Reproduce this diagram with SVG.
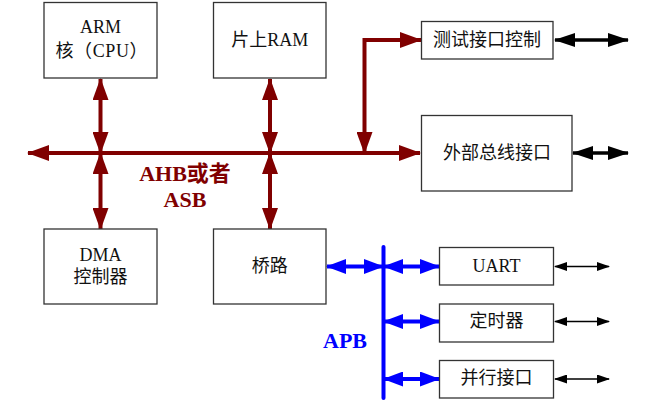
<svg xmlns="http://www.w3.org/2000/svg" width="655" height="406" viewBox="0 0 655 406">
<style>
.box{fill:#fff;stroke:#333;stroke-width:1.3}
.t{font-family:"Liberation Serif","Noto Sans CJK SC",serif;font-size:18px;fill:#111;text-anchor:middle}
.ahb{stroke:#800000;stroke-width:4;fill:none}
.apb{stroke:#0000ff;stroke-width:4;fill:none}
.ext{stroke:#000;stroke-width:3.5;fill:none}
.sm{stroke:#000;stroke-width:1.4;fill:none}
.lbl{font-family:"Liberation Serif","Noto Sans CJK SC",serif;font-size:22px;font-weight:bold;text-anchor:middle}
</style>
<defs>
<marker id="mr" markerUnits="userSpaceOnUse" markerWidth="22" markerHeight="16" refX="21" refY="8" orient="auto-start-reverse"><path d="M0,0 L22,8 L0,16 z" fill="#800000"/></marker>
<marker id="mb" markerUnits="userSpaceOnUse" markerWidth="20" markerHeight="15" refX="19" refY="7.5" orient="auto-start-reverse"><path d="M0,0 L20,7.5 L0,15 z" fill="#0000ff"/></marker>
<marker id="mk" markerUnits="userSpaceOnUse" markerWidth="21" markerHeight="14" refX="20" refY="7" orient="auto-start-reverse"><path d="M0,0 L21,7 L0,14 z" fill="#000"/></marker>
<marker id="ms" markerUnits="userSpaceOnUse" markerWidth="13" markerHeight="9" refX="12" refY="4.5" orient="auto-start-reverse"><path d="M0,0 L13,4.5 L0,9 z" fill="#000"/></marker>
</defs>
<g id="connectors">
<path class="ahb" d="M420,153 H28" marker-end="url(#mr)" marker-start="url(#mr)"/>
<path class="ahb" d="M100.5,79 V153" marker-start="url(#mr)" marker-end="url(#mr)"/>
<path class="ahb" d="M100.5,153 V229" marker-start="url(#mr)" marker-end="url(#mr)"/>
<path class="ahb" d="M270,79 V153" marker-start="url(#mr)" marker-end="url(#mr)"/>
<path class="ahb" d="M270,153 V229" marker-start="url(#mr)" marker-end="url(#mr)"/>
<path class="ahb" d="M364.5,153 V40 H421" marker-start="url(#mr)" marker-end="url(#mr)"/>
<path class="ext" d="M555,40 H628" marker-start="url(#mk)" marker-end="url(#mk)"/>
<path class="ext" d="M573,153 H628" marker-start="url(#mk)" marker-end="url(#mk)"/>
<path class="apb" d="M383.5,247 V398" stroke-linecap="round"/>
<path class="apb" d="M327,266.5 H383" marker-start="url(#mb)" marker-end="url(#mb)"/>
<path class="apb" d="M384,266.5 H439" marker-start="url(#mb)" marker-end="url(#mb)"/>
<path class="apb" d="M384,321.5 H439" marker-start="url(#mb)" marker-end="url(#mb)"/>
<path class="apb" d="M384,379 H439" marker-start="url(#mb)" marker-end="url(#mb)"/>
<path class="sm" d="M555,266.5 H609" marker-start="url(#ms)" marker-end="url(#ms)"/>
<path class="sm" d="M555,321.5 H609" marker-start="url(#ms)" marker-end="url(#ms)"/>
<path class="sm" d="M555,379 H609" marker-start="url(#ms)" marker-end="url(#ms)"/>
<text class="lbl" x="185" y="181" fill="#800000">AHB或者</text>
<text class="lbl" x="185" y="207" fill="#800000">ASB</text>
<text class="lbl" x="345" y="348" fill="#0000ff">APB</text>
</g>
<g id="arm"><rect class="box" x="44" y="2.5" width="113" height="75.5"/><text class="t" x="100.5" y="33">ARM</text><text class="t" x="101.5" y="57" textLength="92" lengthAdjust="spacing">核（CPU）</text></g>
<g id="ram"><rect class="box" x="213.5" y="2.5" width="112.5" height="75.5"/><text class="t" x="269.75" y="46">片上RAM</text></g>
<g id="dma"><rect class="box" x="44" y="229" width="113" height="75"/><text class="t" x="100.5" y="261">DMA</text><text class="t" x="100.5" y="283">控制器</text></g>
<g id="bridge"><rect class="box" x="213.5" y="229" width="112.5" height="75"/><text class="t" x="269.75" y="272">桥路</text></g>
<g id="test"><rect class="box" x="421.5" y="21.5" width="131.5" height="37.5"/><text class="t" x="487" y="46">测试接口控制</text></g>
<g id="extbus"><rect class="box" x="421.5" y="115.5" width="150.5" height="75.5"/><text class="t" x="497" y="159">外部总线接口</text></g>
<g id="uart"><rect class="box" x="439.5" y="247.5" width="114" height="37.5"/><text class="t" x="496.5" y="272">UART</text></g>
<g id="timer"><rect class="box" x="439.5" y="304" width="114" height="38"/><text class="t" x="496.5" y="327">定时器</text></g>
<g id="parallel"><rect class="box" x="439.5" y="360.5" width="114" height="37.5"/><text class="t" x="496.5" y="384">并行接口</text></g>
</svg>
